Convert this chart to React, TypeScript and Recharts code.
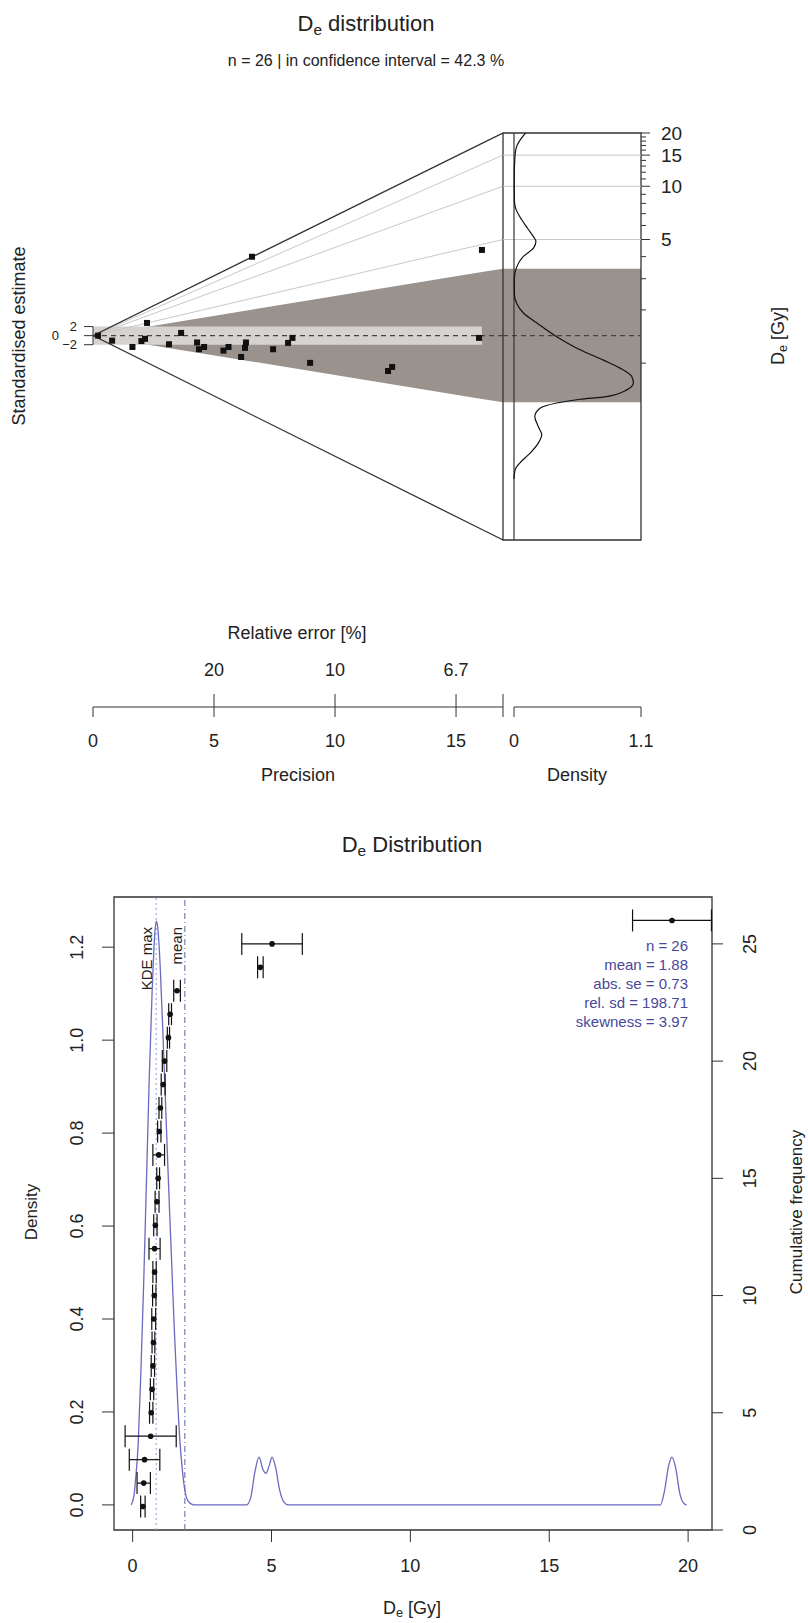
import React from "react";
import {
  Area,
  ComposedChart,
  ErrorBar,
  Line,
  ReferenceArea,
  ReferenceLine,
  Scatter,
  XAxis,
  YAxis,
} from "recharts";

const FONT = "'Liberation Sans', Arial, Helvetica, sans-serif";
const INK = "#222222";
const AXIS = "#333333";
const CONF_FILL = "#9a928d";
const BAND_FILL = "#d6d2cf";
const GRID_GRAY = "#c8c8c8";
const KDE_BLUE = "#6a6ac0";
const STATS_BLUE = "#48489a";

// ---- abanico plot: precision (1/rel. error) and standardised estimate ----
const PRECISION = [
  6.57, 16.07, 2.23, 3.64, 0.79, 1.63, 2.0, 2.15, 3.14, 4.3, 4.38, 4.59, 5.39,
  5.6, 6.12, 6.32, 6.28, 7.44, 8.06, 8.24, 8.97, 12.19, 12.36, 15.95, 0.21,
];
const STD_ESTIMATE = [
  17.4, 18.9, 2.8, 0.6, -1.1, -2.5, -1.2, -0.7, -1.9, -1.5, -3.0, -2.5, -3.3,
  -2.5, -4.7, -1.5, -2.7, -3.0, -1.6, -0.5, -6.0, -7.8, -6.9, -0.5, 0.0,
];

const DE_CENTRAL = 1.43;
const DE_LIMITS = [0.1, 20];
const DE_CONF = [0.6, 3.42];
const DE_GRID = [5, 10, 15];
const DE_TICKS = [1, 2, 3, 4, 5, 6, 7, 8, 9, 10, 11, 12, 13, 14, 15, 16, 17, 18, 19, 20];
const DE_TICK_LABELS = [5, 10, 15, 20];
const PRECISION_END = 16.94;
const PRECISION_TICKS = [0, 5, 10, 15];
const STD_TICKS = [-2, 0, 2];

// KDE drawn beside the abanico plot (De top to bottom)
const KDE_SIDE_DE = [
  20.1, 19.1, 16.8, 14.7, 11.0, 8.2, 7.4, 6.7, 5.75, 5.05, 4.88, 4.48, 4.01,
  3.49, 3.0, 2.46, 2.18, 1.92, 1.69, 1.41, 1.19, 1.04, 0.937, 0.839, 0.771,
  0.706, 0.647, 0.625, 0.595, 0.556, 0.499, 0.438, 0.393, 0.353, 0.31, 0.273,
  0.249, 0.221,
];
const KDE_SIDE_DENSITY = [
  0.104, 0.075, 0.023, 0.008, 0.002, 0.004, 0.017, 0.052, 0.12, 0.18, 0.19,
  0.17, 0.081, 0.023, 0.003, 0.003, 0.023, 0.081, 0.196, 0.37, 0.572, 0.774,
  0.918, 1.02, 1.034, 0.976, 0.8, 0.572, 0.37, 0.225, 0.18, 0.21, 0.24, 0.21,
  0.14, 0.052, 0.009, 0.0,
];
const DENSITY_TICKS = [0, 1.1];

// ---- lower plot: De distribution ----
const DE_SORTED = [
  0.37, 0.4, 0.43, 0.65, 0.67, 0.7, 0.73, 0.75, 0.76, 0.78, 0.79, 0.79, 0.82,
  0.88, 0.92, 0.94, 0.96, 1.0, 1.1, 1.15, 1.29, 1.35, 1.6, 4.6, 5.02, 19.42,
];
const DE_ERR = [
  0.08, 0.24, 0.55, 0.92, 0.06, 0.06, 0.06, 0.05, 0.07, 0.06, 0.06, 0.2, 0.06,
  0.07, 0.05, 0.21, 0.06, 0.05, 0.07, 0.08, 0.04, 0.05, 0.12, 0.1, 1.09, 1.42,
];
const KDE_DE = [
  -0.05, 0.05, 0.1, 0.2, 0.3, 0.4, 0.5, 0.6, 0.7, 0.8, 0.85, 0.9, 1.0, 1.1,
  1.2, 1.3, 1.4, 1.5, 1.6, 1.7, 1.8, 1.9, 2.0, 2.2, 4.1, 4.25, 4.4, 4.55, 4.7,
  4.8, 4.92, 5.02, 5.15, 5.3, 5.45, 5.6, 19.0, 19.15, 19.3, 19.42, 19.55, 19.7,
  19.85, 19.95,
];
const KDE_DENSITY = [
  0, 0.02, 0.05, 0.13, 0.29, 0.48, 0.7, 0.92, 1.1, 1.23, 1.256, 1.245, 1.15,
  1.0, 0.84, 0.68, 0.53, 0.38, 0.25, 0.14, 0.07, 0.025, 0.008, 0, 0, 0.015,
  0.07, 0.103, 0.075, 0.068, 0.085, 0.103, 0.08, 0.03, 0.006, 0, 0, 0.03,
  0.085, 0.103, 0.08, 0.025, 0.003, 0,
];
const KDE_MAX_DE = 0.85;
const MEAN_DE = 1.88;
const STATS_LINES = [
  "n = 26",
  "mean = 1.88",
  "abs. se = 0.73",
  "rel. sd = 198.71",
  "skewness = 3.97",
];
const DE_AXIS_TICKS = [0, 5, 10, 15, 20];
const DENS_TICKS = [0, 0.2, 0.4, 0.6, 0.8, 1.0, 1.2];
const CUM_TICKS = [0, 5, 10, 15, 20, 25];
const DE_DOMAIN = [-0.67, 20.86];
const DENS_DOMAIN = [-0.054, 1.308];
const CUM_DOMAIN = [0, 27];

// ---- layout (px) ----
const W = 808;
const TOP_H = 800;
const BOX_TOP = 133;
const BOX_BOTTOM = 540;
const AXIS_Y = 707;
const ORIGIN_X = 93;
const BOX_LEFT = 503;
const DENS_ZERO_X = 514;
const BOX_RIGHT = 641;
const AXIS_W = 60;
const AXIS_H = 60;

const LOW_TOP = 800;
const LOW_H = 823;
const FRAME_TOP = 897;
const FRAME_BOTTOM = 1530;
const FRAME_LEFT = 114;
const FRAME_RIGHT = 712;
const LOW_AXIS_H = 40;

// ---- derived abanico geometry ----
const Z0 = Math.log(DE_CENTRAL);
const toStd = (de: number, p: number) => (Math.log(de) - Z0) * p;
const STD_TOP = toStd(DE_LIMITS[1], PRECISION_END);
const STD_BOTTOM = toStd(DE_LIMITS[0], PRECISION_END);
const PX_PER_STD = (BOX_BOTTOM - BOX_TOP) / (STD_TOP - STD_BOTTOM);
const STD_AXIS = STD_TOP - (AXIS_Y - BOX_TOP) / PX_PER_STD;
const STD_DOMAIN = [STD_AXIS, STD_TOP];
const DENS_MAX = DENSITY_TICKS[1];
const DENS_MIN = -((DENS_ZERO_X - BOX_LEFT) / (BOX_RIGHT - DENS_ZERO_X)) * DENS_MAX;
const P_DATA_MAX = Math.max(...PRECISION);

const radialRows = [0, P_DATA_MAX, PRECISION_END].map((p) => {
  const row: Record<string, any> = {
    x: p,
    conf: [toStd(DE_CONF[0], p), toStd(DE_CONF[1], p)],
    band: p <= P_DATA_MAX ? [STD_TICKS[0], STD_TICKS[2]] : null,
    upper: toStd(DE_LIMITS[1], p),
    lower: toStd(DE_LIMITS[0], p),
    centre: 0,
  };
  DE_GRID.forEach((d) => (row[`g${d}`] = toStd(d, p)));
  return row;
});
const radialPoints = PRECISION.map((p, i) => ({ x: p, y: STD_ESTIMATE[i] }));

const sideRows = [DENS_MIN, DENS_MAX].map((x) => {
  const row: Record<string, any> = {
    x,
    conf: [toStd(DE_CONF[0], PRECISION_END), toStd(DE_CONF[1], PRECISION_END)],
    centre: 0,
  };
  DE_GRID.forEach((d) => (row[`g${d}`] = toStd(d, PRECISION_END)));
  return row;
});
const sideKde = KDE_SIDE_DE.map((de, i) => ({
  x: KDE_SIDE_DENSITY[i],
  y: toStd(de, PRECISION_END),
}));
const deTickStd = DE_TICKS.map((d) => toStd(d, PRECISION_END));

const cumPoints = DE_SORTED.map((de, i) => ({ x: de, y: i + 1, err: DE_ERR[i] }));
const kdeRows = KDE_DE.map((de, i) => ({ x: de, y: KDE_DENSITY[i] }));

// ---- ticks ----
const txt = { fontFamily: FONT, fill: INK };

function PrecisionTick(props: any) {
  const { x, y, payload } = props;
  const v = payload.value as number;
  const isEnd = v === PRECISION_END;
  return (
    <g>
      {v > 0 && <line x1={x} x2={x} y1={y} y2={y - 13} stroke={AXIS} />}
      <line x1={x} x2={x} y1={y} y2={y + 10} stroke={AXIS} />
      {!isEnd && (
        <text x={x} y={y + 34} textAnchor="middle" dominantBaseline="central" fontSize={18} {...txt}>
          {v}
        </text>
      )}
      {v > 0 && !isEnd && (
        <text x={x} y={y - 37} textAnchor="middle" dominantBaseline="central" fontSize={18} {...txt}>
          {Number((100 / v).toFixed(1))}
        </text>
      )}
    </g>
  );
}

function DensityTick(props: any) {
  const { x, y, payload } = props;
  return (
    <g>
      <line x1={x} x2={x} y1={y} y2={y + 10} stroke={AXIS} />
      <text x={x} y={y + 34} textAnchor="middle" dominantBaseline="central" fontSize={18} {...txt}>
        {payload.value}
      </text>
    </g>
  );
}

// the -2 / 0 / 2 labels sit very close together: the 0 is pushed left so they do not collide
function StdTick(props: any) {
  const { x, y, payload } = props;
  const v = payload.value as number;
  const lx = v === 0 ? x - 34 : x - 16;
  return (
    <g>
      <line x1={x} x2={x - 9} y1={y} y2={y} stroke={AXIS} />
      <text x={lx} y={y} textAnchor="end" dominantBaseline="central" fontSize={13} {...txt}>
        {v < 0 ? `\u2212${Math.abs(v)}` : v}
      </text>
    </g>
  );
}

function DeTick(props: any) {
  const { x, y, payload } = props;
  const de = Math.round(Math.exp(payload.value / PRECISION_END + Z0));
  const major = DE_TICK_LABELS.includes(de);
  return (
    <g>
      <line x1={x} x2={x + (major ? 9 : 5)} y1={y} y2={y} stroke={AXIS} />
      {major && (
        <text x={x + 20} y={y} textAnchor="start" dominantBaseline="central" fontSize={19} {...txt}>
          {de}
        </text>
      )}
    </g>
  );
}

function LowerXTick(props: any) {
  const { x, y, payload } = props;
  return (
    <g>
      <line x1={x} x2={x} y1={y} y2={y + 12} stroke={AXIS} />
      <text x={x} y={y + 36} textAnchor="middle" dominantBaseline="central" fontSize={18} {...txt}>
        {payload.value}
      </text>
    </g>
  );
}

function DensAxisTick(props: any) {
  const { x, y, payload } = props;
  const lx = x - 31;
  return (
    <g>
      <line x1={x} x2={x - 12} y1={y} y2={y} stroke={AXIS} />
      <text x={lx} y={y} transform={`rotate(-90 ${lx} ${y})`} textAnchor="middle" fontSize={18} {...txt}>
        {(payload.value as number).toFixed(1)}
      </text>
    </g>
  );
}

function CumAxisTick(props: any) {
  const { x, y, payload } = props;
  const lx = x + 44;
  return (
    <g>
      <line x1={x} x2={x + 11} y1={y} y2={y} stroke={AXIS} />
      <text x={lx} y={y} transform={`rotate(-90 ${lx} ${y})`} textAnchor="middle" fontSize={18} {...txt}>
        {payload.value}
      </text>
    </g>
  );
}

function sideLabel(text: string, gap: number) {
  return (props: any) => {
    const vb = props.viewBox ?? {};
    const x = (vb.x ?? 0) - gap;
    const y = (vb.y ?? 0) + 30;
    return (
      <text x={x} y={y} transform={`rotate(-90 ${x} ${y})`} textAnchor="end" fontSize={15} {...txt}>
        {text}
      </text>
    );
  };
}

const Square = (props: any) => (
  <rect x={props.cx - 3} y={props.cy - 3} width={6} height={6} fill="#111" />
);
const Dot = (props: any) => <circle cx={props.cx} cy={props.cy} r={2.8} fill="#111" />;
const NoShape = () => <g />;

// ---- html text ----
function Txt(props: {
  x: number;
  y: number;
  size: number;
  rotate?: boolean;
  color?: string;
  children: React.ReactNode;
}) {
  return (
    <div
      style={{
        position: "absolute",
        left: props.x,
        top: props.y,
        transform: `translate(-50%, -50%)${props.rotate ? " rotate(-90deg)" : ""}`,
        fontFamily: FONT,
        fontSize: props.size,
        color: props.color ?? INK,
        whiteSpace: "nowrap",
        lineHeight: 1,
      }}
    >
      {props.children}
    </div>
  );
}

const De = () => (
  <>
    D<sub style={{ fontSize: "0.7em", verticalAlign: "-0.25em", lineHeight: 0 }}>e</sub>
  </>
);

const layer: React.CSSProperties = { position: "absolute", left: 0 };

export default function App() {
  return (
    <div style={{ position: "absolute", left: 0, top: 0, width: W, height: 1623, background: "#fff" }}>
      {/* radial (abanico) part */}
      <div style={{ ...layer, top: 0 }}>
        <ComposedChart
          width={W}
          height={TOP_H}
          data={radialRows}
          margin={{ top: BOX_TOP, bottom: TOP_H - AXIS_Y - AXIS_H, left: ORIGIN_X - AXIS_W, right: W - BOX_LEFT }}
        >
          <XAxis
            type="number"
            dataKey="x"
            domain={[0, PRECISION_END]}
            ticks={[...PRECISION_TICKS, PRECISION_END]}
            interval={0}
            tickLine={false}
            tickSize={0}
            tickMargin={0}
            tick={PrecisionTick}
            axisLine={{ stroke: AXIS }}
            height={AXIS_H}
            allowDataOverflow
          />
          <YAxis
            type="number"
            domain={STD_DOMAIN}
            ticks={STD_TICKS}
            interval={0}
            width={AXIS_W}
            axisLine={false}
            tickLine={false}
            tickSize={0}
            tickMargin={0}
            tick={StdTick}
            allowDataOverflow
          />
          <Area dataKey="conf" type="linear" fill={CONF_FILL} fillOpacity={1} stroke="none" isAnimationActive={false} />
          <Area dataKey="band" type="linear" fill={BAND_FILL} fillOpacity={1} stroke="none" isAnimationActive={false} />
          {DE_GRID.map((d) => (
            <Line key={d} dataKey={`g${d}`} type="linear" stroke={GRID_GRAY} strokeWidth={1} dot={false} isAnimationActive={false} />
          ))}
          <Line dataKey="upper" type="linear" stroke={AXIS} strokeWidth={1.3} dot={false} isAnimationActive={false} />
          <Line dataKey="lower" type="linear" stroke={AXIS} strokeWidth={1.3} dot={false} isAnimationActive={false} />
          <Line dataKey="centre" type="linear" stroke="#444" strokeWidth={1.2} strokeDasharray="5 4" dot={false} isAnimationActive={false} />
          <ReferenceLine segment={[{ x: 0, y: STD_TICKS[0] }, { x: 0, y: STD_TICKS[2] }]} stroke={AXIS} ifOverflow="visible" />
          <Scatter data={radialPoints} dataKey="y" shape={Square} isAnimationActive={false} />
        </ComposedChart>
      </div>

      {/* KDE panel beside the radial plot */}
      <div style={{ ...layer, top: 0 }}>
        <ComposedChart
          width={W}
          height={TOP_H}
          data={sideRows}
          margin={{ top: BOX_TOP, bottom: TOP_H - AXIS_Y - AXIS_H, left: BOX_LEFT, right: W - BOX_RIGHT - AXIS_W }}
        >
          <XAxis
            type="number"
            dataKey="x"
            domain={[DENS_MIN, DENS_MAX]}
            ticks={DENSITY_TICKS}
            interval={0}
            axisLine={false}
            tickLine={false}
            tickSize={0}
            tickMargin={0}
            tick={DensityTick}
            height={AXIS_H}
            allowDataOverflow
          />
          <YAxis
            orientation="right"
            type="number"
            domain={STD_DOMAIN}
            ticks={deTickStd}
            interval={0}
            width={AXIS_W}
            axisLine={false}
            tickLine={false}
            tickSize={0}
            tickMargin={0}
            tick={DeTick}
            allowDataOverflow
          />
          <Area dataKey="conf" type="linear" fill={CONF_FILL} fillOpacity={1} stroke="none" isAnimationActive={false} />
          {DE_GRID.map((d) => (
            <Line key={d} dataKey={`g${d}`} type="linear" stroke={GRID_GRAY} strokeWidth={1} dot={false} isAnimationActive={false} />
          ))}
          <Line dataKey="centre" type="linear" stroke="#444" strokeWidth={1.2} strokeDasharray="5 4" dot={false} isAnimationActive={false} />
          <ReferenceLine segment={[{ x: 0, y: STD_BOTTOM }, { x: 0, y: STD_TOP }]} stroke={AXIS} strokeWidth={1.2} ifOverflow="visible" />
          <ReferenceLine segment={[{ x: 0, y: STD_AXIS }, { x: DENS_MAX, y: STD_AXIS }]} stroke={AXIS} ifOverflow="visible" />
          <ReferenceArea
            x1={DENS_MIN}
            x2={DENS_MAX}
            y1={STD_BOTTOM}
            y2={STD_TOP}
            fill="none"
            fillOpacity={0}
            stroke={AXIS}
            strokeWidth={1.3}
            ifOverflow="visible"
          />
          <Scatter
            data={sideKde}
            dataKey="y"
            shape={NoShape}
            line={{ stroke: "#111", strokeWidth: 1.2 }}
            lineType="joint"
            lineJointType="monotoneY"
            isAnimationActive={false}
          />
        </ComposedChart>
      </div>

      {/* lower plot */}
      <div style={{ ...layer, top: LOW_TOP }}>
        <ComposedChart
          width={W}
          height={LOW_H}
          margin={{
            top: FRAME_TOP - LOW_TOP,
            bottom: LOW_TOP + LOW_H - FRAME_BOTTOM - LOW_AXIS_H,
            left: FRAME_LEFT - AXIS_W,
            right: W - FRAME_RIGHT - AXIS_W,
          }}
        >
          <XAxis
            type="number"
            dataKey="x"
            domain={DE_DOMAIN}
            ticks={DE_AXIS_TICKS}
            interval={0}
            axisLine={false}
            tickLine={false}
            tickSize={0}
            tickMargin={0}
            tick={LowerXTick}
            height={LOW_AXIS_H}
            allowDataOverflow
          />
          <YAxis
            yAxisId="dens"
            type="number"
            domain={DENS_DOMAIN}
            ticks={DENS_TICKS}
            interval={0}
            width={AXIS_W}
            axisLine={false}
            tickLine={false}
            tickSize={0}
            tickMargin={0}
            tick={DensAxisTick}
            allowDataOverflow
          />
          <YAxis
            yAxisId="cum"
            orientation="right"
            type="number"
            domain={CUM_DOMAIN}
            ticks={CUM_TICKS}
            interval={0}
            width={AXIS_W}
            axisLine={false}
            tickLine={false}
            tickSize={0}
            tickMargin={0}
            tick={CumAxisTick}
            allowDataOverflow
          />
          <ReferenceLine
            yAxisId="dens"
            x={KDE_MAX_DE}
            stroke="#a9a9e2"
            strokeWidth={1.2}
            strokeDasharray="2 3"
            label={sideLabel("KDE max", 4)}
          />
          <ReferenceLine
            yAxisId="dens"
            x={MEAN_DE}
            stroke="#7d7daf"
            strokeWidth={1.2}
            strokeDasharray="6 3 1 3"
            label={sideLabel("mean", 3)}
          />
          <Line
            yAxisId="dens"
            data={kdeRows}
            dataKey="y"
            type="monotone"
            stroke={KDE_BLUE}
            strokeWidth={1.3}
            dot={false}
            isAnimationActive={false}
          />
          <Scatter yAxisId="cum" data={cumPoints} dataKey="y" shape={Dot} isAnimationActive={false}>
            <ErrorBar dataKey="err" direction="x" width={11} stroke="#111" strokeWidth={1.2} isAnimationActive={false} />
          </Scatter>
          <ReferenceArea
            yAxisId="dens"
            x1={DE_DOMAIN[0]}
            x2={DE_DOMAIN[1]}
            y1={DENS_DOMAIN[0]}
            y2={DENS_DOMAIN[1]}
            fill="none"
            fillOpacity={0}
            stroke={AXIS}
            strokeWidth={1.3}
            ifOverflow="visible"
          />
        </ComposedChart>
      </div>

      {/* titles and axis titles */}
      <Txt x={366} y={24} size={22}>
        <De /> distribution
      </Txt>
      <Txt x={366} y={61} size={16}>
        n = 26 | in confidence interval = 42.3 %
      </Txt>
      <Txt x={19} y={336} size={18} rotate>
        Standardised estimate
      </Txt>
      <Txt x={778} y={336} size={18} rotate>
        <De /> [Gy]
      </Txt>
      <Txt x={297} y={633} size={18}>
        Relative error [%]
      </Txt>
      <Txt x={298} y={775} size={18}>
        Precision
      </Txt>
      <Txt x={577} y={775} size={18}>
        Density
      </Txt>

      <Txt x={412} y={845} size={22}>
        <De /> Distribution
      </Txt>
      <Txt x={31} y={1212} size={17} rotate>
        Density
      </Txt>
      <Txt x={796} y={1212} size={17} rotate>
        Cumulative frequency
      </Txt>
      <Txt x={412} y={1608} size={18}>
        <De /> [Gy]
      </Txt>
      <div
        style={{
          position: "absolute",
          left: 488,
          width: 200,
          top: 936,
          textAlign: "right",
          fontFamily: FONT,
          fontSize: 15,
          lineHeight: "19px",
          color: STATS_BLUE,
          whiteSpace: "nowrap",
        }}
      >
        {STATS_LINES.map((s) => (
          <div key={s}>{s}</div>
        ))}
      </div>
    </div>
  );
}
